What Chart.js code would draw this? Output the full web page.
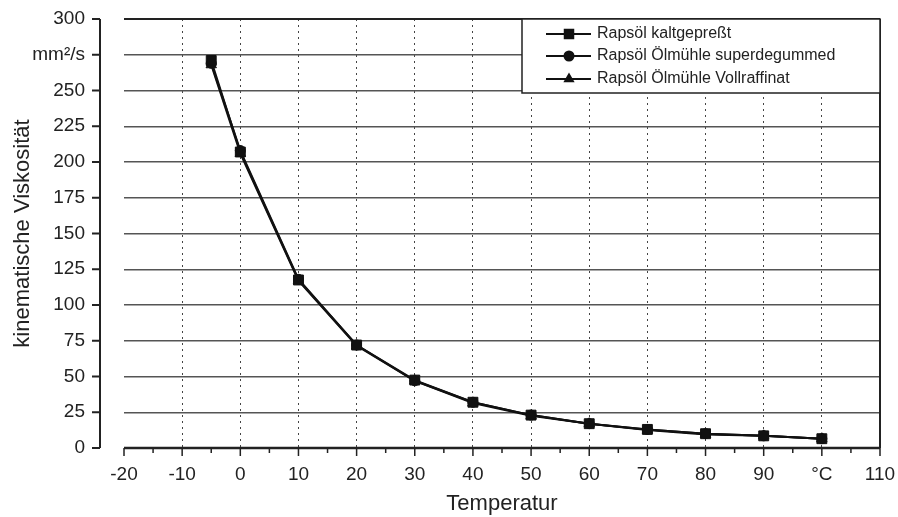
<!DOCTYPE html>
<html>
<head>
<meta charset="utf-8">
<script src="https://cdn.jsdelivr.net/npm/chart.js@4.4.0/dist/chart.umd.min.js"></script>
<style>
  html, body { margin: 0; padding: 0; background: #fff; }
</style>
</head>
<body>
<canvas id="viscChart" width="898" height="517"></canvas>
<script>
// data
const temps = [-5, 0, 10, 20, 30, 40, 50, 60, 70, 80, 90, 100];
const kaltgepresst = [271, 207, 117.5, 72, 47.5, 32, 23, 17, 13, 10, 8.5, 6.5];
const superdegummed = [269, 208, 118, 72, 47, 32, 23, 17, 13, 10, 8.5, 6.5];
const vollraffinat = [268, 206, 117, 71.5, 47, 31.5, 22.5, 17, 12.5, 9.5, 8.5, 6.5];
const seriesNames = ['Rapsöl kaltgepreßt', 'Rapsöl Ölmühle superdegummed', 'Rapsöl Ölmühle Vollraffinat'];
const xTickLabels = ['-20', '-10', '0', '10', '20', '30', '40', '50', '60', '70', '80', '90', '°C', '110'];
const yTickLabels = ['0', '25', '50', '75', '100', '125', '150', '175', '200', '225', '250', 'mm²/s', '300'];

const ink = '#222';
const font = 'Liberation Sans, Arial, Helvetica, sans-serif';

function toPoints(vals) {
    return temps.map((t, i) => ({ x: t, y: vals[i] }));
}

// frame, offset y axis and x tick marks
const framePlugin = {
    id: 'frame',
    beforeDatasetsDraw(chart) {
        const { ctx, chartArea: a, scales: { x, y } } = chart;
        ctx.save();
        ctx.strokeStyle = ink;
        ctx.lineWidth = 2;
        ctx.beginPath();
        ctx.moveTo(a.left, a.top); ctx.lineTo(a.right, a.top);
        ctx.moveTo(a.right, a.top); ctx.lineTo(a.right, a.bottom);
        ctx.stroke();
        ctx.lineWidth = 2.5;
        ctx.beginPath();
        ctx.moveTo(a.left, y.getPixelForValue(0)); ctx.lineTo(a.right, y.getPixelForValue(0));
        ctx.stroke();

        // y axis drawn apart from the plot
        const ax = a.left - 24;
        ctx.lineWidth = 2;
        ctx.beginPath();
        ctx.moveTo(ax, a.top); ctx.lineTo(ax, a.bottom);
        y.ticks.forEach(t => {
            const py = y.getPixelForValue(t.value);
            ctx.moveTo(ax - 8, py); ctx.lineTo(ax, py);
        });
        ctx.stroke();

        // x ticks, major + minor
        ctx.lineWidth = 1.5;
        ctx.beginPath();
        x.ticks.forEach(t => {
            const px = x.getPixelForValue(t.value);
            ctx.moveTo(px, a.bottom); ctx.lineTo(px, a.bottom + 8);
            if (t.value < x.max) {
                const pm = x.getPixelForValue(t.value + 5);
                ctx.moveTo(pm, a.bottom); ctx.lineTo(pm, a.bottom + 5);
            }
        });
        ctx.stroke();
        ctx.restore();
    }
};

// boxed legend in the top right corner
const legendPlugin = {
    id: 'boxLegend',
    afterDatasetsDraw(chart) {
        const { ctx, chartArea: a } = chart;
        const w = 358, h = 74;
        const bx = a.right - w, by = a.top;
        ctx.save();
        ctx.fillStyle = '#fff';
        ctx.fillRect(bx, by, w, h);
        ctx.strokeStyle = ink;
        ctx.lineWidth = 1.5;
        ctx.strokeRect(bx, by, w, h);
        const rows = [15, 37, 60];
        chart.data.datasets.forEach((ds, i) => {
            const ly = by + rows[i];
            ctx.strokeStyle = '#111';
            ctx.fillStyle = '#111';
            ctx.lineWidth = 2;
            ctx.beginPath();
            ctx.moveTo(bx + 24, ly); ctx.lineTo(bx + 69, ly);
            ctx.stroke();
            Chart.helpers.drawPoint(ctx, {
                pointStyle: ds.pointStyle, rotation: 0,
                radius: ds.pointStyle === 'rect' ? 6 : 4.5, borderWidth: 1
            }, bx + 47, ly);
            ctx.fillStyle = ink;
            ctx.font = '16px ' + font;
            ctx.textBaseline = 'middle';
            ctx.fillText(ds.label, bx + 75, ly);
        });
        ctx.restore();
    }
};

function makeSet(label, vals, style, radius) {
    return {
        label: label,
        data: toPoints(vals),
        borderColor: '#111',
        backgroundColor: '#111',
        borderWidth: 2,
        pointStyle: style,
        pointRadius: radius,
        pointBorderWidth: 1,
        tension: 0
    };
}

const ctx = document.getElementById('viscChart').getContext('2d');
const viscChart = new Chart(ctx, {
    type: 'line',
    data: {
        datasets: [
            makeSet(seriesNames[0], kaltgepresst, 'rect', 7),
            makeSet(seriesNames[1], superdegummed, 'circle', 5),
            makeSet(seriesNames[2], vollraffinat, 'triangle', 6)
        ]
    },
    options: {
        responsive: false,
        devicePixelRatio: 1,
        animation: false,
        layout: { padding: { top: 19, right: 18, left: 0, bottom: 0 } },
        plugins: {
            legend: { display: false },
            tooltip: { enabled: false }
        },
        scales: {
            x: {
                type: 'linear',
                min: -20,
                max: 110,
                ticks: {
                    stepSize: 10,
                    autoSkip: false,
                    maxRotation: 0,
                    padding: 15,
                    color: ink,
                    font: { family: font, size: 19 },
                    callback: (v, i) => xTickLabels[i]
                },
                grid: {
                    drawTicks: false,
                    lineWidth: 1,
                    color: c => (c.tick && (c.tick.value === -20 || c.tick.value === 110)) ? 'rgba(0,0,0,0)' : '#444'
                },
                border: { display: false, dash: [2, 4] },
                title: {
                    display: true,
                    text: 'Temperatur',
                    color: ink,
                    font: { family: font, size: 22 },
                    padding: { top: 5, bottom: 0 }
                },
                afterFit: s => { s.height = 69; s.paddingLeft = 0; s.paddingRight = 0; }
            },
            y: {
                min: 0,
                max: 300,
                ticks: {
                    stepSize: 25,
                    padding: 39,
                    color: ink,
                    font: { family: font, size: 19 },
                    callback: (v, i) => yTickLabels[i]
                },
                grid: {
                    drawTicks: false,
                    lineWidth: 1.5,
                    color: '#555'
                },
                border: { display: false },
                title: {
                    display: true,
                    text: 'kinematische Viskosität',
                    color: ink,
                    font: { family: font, size: 22 },
                    padding: { top: 10, bottom: 0 }
                },
                afterFit: s => { s.width = 124; s.paddingTop = 0; s.paddingBottom = 0; }
            }
        }
    },
    plugins: [framePlugin, legendPlugin]
});
</script>
</body>
</html>
